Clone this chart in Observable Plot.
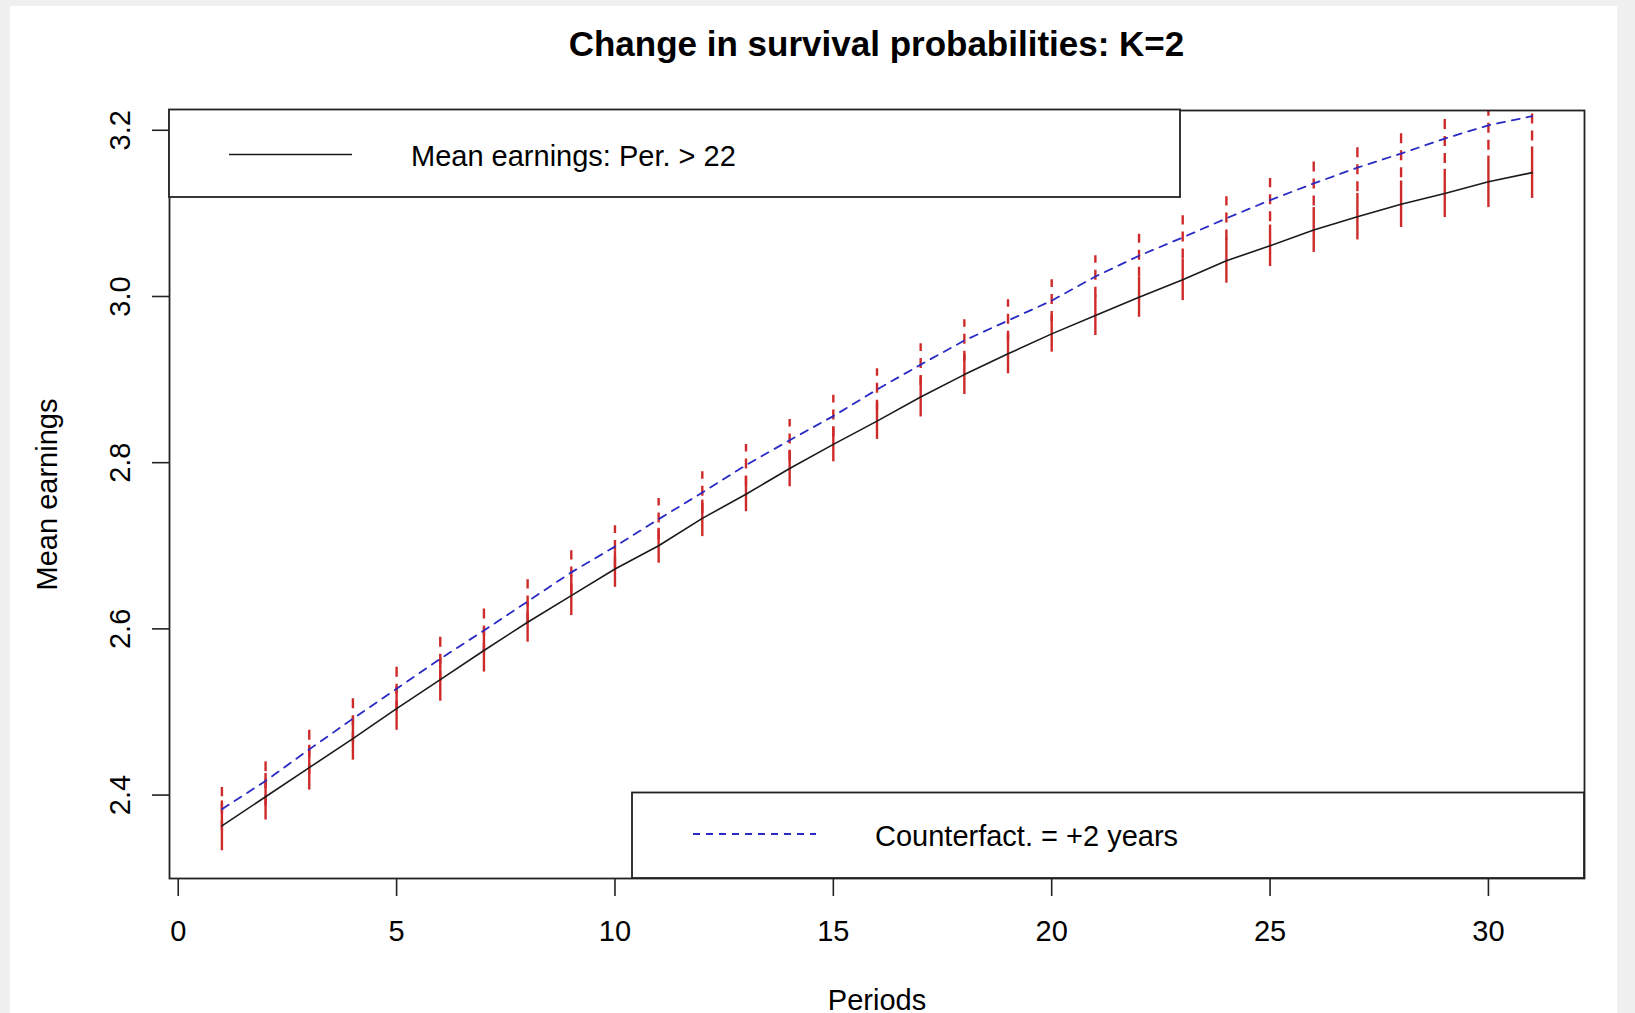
<!DOCTYPE html>
<html><head><meta charset="utf-8">
<script src="https://cdn.jsdelivr.net/npm/d3@7"></script>
<script src="https://cdn.jsdelivr.net/npm/@observablehq/plot@0.6"></script>
<style>
html,body{margin:0;padding:0;background:#f0f0f0;width:1635px;height:1013px;overflow:hidden;}
#panel{position:absolute;left:10px;top:6px;width:1607px;height:1007px;background:#fff;}
#title{position:absolute;left:0;width:1753px;top:24px;line-height:40px;text-align:center;font:bold 35px "Liberation Sans",Arial,sans-serif;color:#000;}
#chart{position:absolute;left:0;top:80px;}
</style></head><body>
<div id="panel"></div>
<div id="title">Change in survival probabilities: K=2</div>
<div id="chart"></div>
<script>
// ---- data ----
const periods = [1,2,3,4,5,6,7,8,9,10,11,12,13,14,15,16,17,18,19,20,21,22,23,24,25,26,27,28,29,30,31];
const meanEarnings = [2.363,2.398,2.433,2.468,2.504,2.539,2.574,2.608,2.640,2.672,2.700,2.733,2.762,2.793,2.822,2.850,2.879,2.906,2.931,2.955,2.977,2.999,3.020,3.043,3.061,3.080,3.096,3.111,3.124,3.138,3.149];
const counterfact = [2.383,2.417,2.455,2.492,2.528,2.564,2.598,2.633,2.668,2.699,2.732,2.764,2.797,2.827,2.856,2.888,2.918,2.947,2.971,2.995,3.024,3.049,3.071,3.094,3.116,3.136,3.155,3.172,3.190,3.206,3.217];
const errMean = [0.030,0.028,0.027,0.026,0.026,0.026,0.026,0.024,0.024,0.022,0.021,0.022,0.021,0.022,0.021,0.022,0.024,0.024,0.024,0.022,0.024,0.024,0.025,0.027,0.025,0.027,0.028,0.028,0.029,0.031,0.031];
const errCounterfact = [0.026,0.030,0.030,0.029,0.027,0.027,0.027,0.026,0.026,0.025,0.025,0.025,0.025,0.025,0.025,0.025,0.025,0.025,0.025,0.025,0.025,0.026,0.026,0.026,0.026,0.027,0.029,0.029,0.030,0.030,0.030];
const xTicks = [0,5,10,15,20,25,30];
const yTicks = [2.4,2.6,2.8,3.0,3.2];
const legendLabels = ["Mean earnings: Per. > 22", "Counterfact. = +2 years"];

const rows = periods.map((p,i)=>({
  period:p, mean:meanEarnings[i], cf:counterfact[i],
  mLo:meanEarnings[i]-errMean[i], mHi:meanEarnings[i]+errMean[i],
  cLo:counterfact[i]-errCounterfact[i], cHi:counterfact[i]+errCounterfact[i]
}));

const RED = "#cf2a2a", BLUE = "#2a2ac4", INK = "#1a1a1a";
const font = '"Liberation Sans", Arial, sans-serif';

const plot = Plot.plot({
  width:1635, height:933,
  marginLeft:169, marginRight:51, marginTop:30, marginBottom:135,
  style:{fontFamily:font, fontSize:"29px", background:"transparent", color:"#000"},
  x:{domain:[-0.2,32.2]},
  y:{domain:[2.2996,3.2238]},
  marks:[
    Plot.ruleX(rows,{x:"period", y1:"mLo", y2:"mHi", stroke:RED, strokeWidth:2.4, clip:true}),
    Plot.ruleX(rows,{x:"period", y1:"cLo", y2:"cHi", stroke:RED, strokeWidth:2.4, strokeDasharray:"10,7", clip:true}),
    Plot.line(rows,{x:"period", y:"mean", stroke:INK, strokeWidth:1.6}),
    Plot.line(rows,{x:"period", y:"cf", stroke:BLUE, strokeWidth:1.8, strokeDasharray:"8,7", clip:true}),
    Plot.frame({stroke:"#222", strokeWidth:1.8}),
    Plot.axisX({ticks:xTicks, tickSize:18, tickPadding:24, label:null, stroke:"#222", strokeWidth:1.6}),
    Plot.axisY({ticks:yTicks, tickSize:17, tickFormat:()=>"", label:null, stroke:"#222", strokeWidth:1.6}),
    Plot.text(yTicks,{y:d=>d, frameAnchor:"left", dx:-49, rotate:-90, text:d=>d.toFixed(1), textAnchor:"middle", lineAnchor:"middle"}),
    Plot.text(["Periods"],{frameAnchor:"bottom", dy:122, text:d=>d, textAnchor:"middle", lineAnchor:"middle"}),
    Plot.text(["Mean earnings"],{frameAnchor:"left", dx:-122, rotate:-90, text:d=>d, textAnchor:"middle", lineAnchor:"middle"})
  ]
});
document.getElementById("chart").appendChild(plot);

// ---- legends (layout in pixels) ----
const LEG = [
  {box:[169,29.5,1011,87.5], line:[229,352,74.5], text:[411,76], stroke:INK, dash:null, width:1.6},
  {box:[632,712.5,952,85.5], line:[693,816,754], text:[875,756], stroke:BLUE, dash:"7,6", width:1.8}
];
const svg = d3.select(plot);
LEG.forEach((L,i)=>{
  const g = svg.append("g");
  g.append("rect").attr("x",L.box[0]).attr("y",L.box[1]).attr("width",L.box[2]).attr("height",L.box[3])
    .attr("fill","#fff").attr("stroke","#222").attr("stroke-width",1.8);
  g.append("line").attr("x1",L.line[0]).attr("x2",L.line[1]).attr("y1",L.line[2]).attr("y2",L.line[2])
    .attr("stroke",L.stroke).attr("stroke-width",L.width).attr("stroke-dasharray",L.dash);
  g.append("text").attr("x",L.text[0]).attr("y",L.text[1]).attr("dy","0.35em")
    .attr("text-anchor","start")
    .attr("font-family",font).attr("font-size","29px").attr("fill","#000").text(legendLabels[i]);
});
</script>
</body></html>
